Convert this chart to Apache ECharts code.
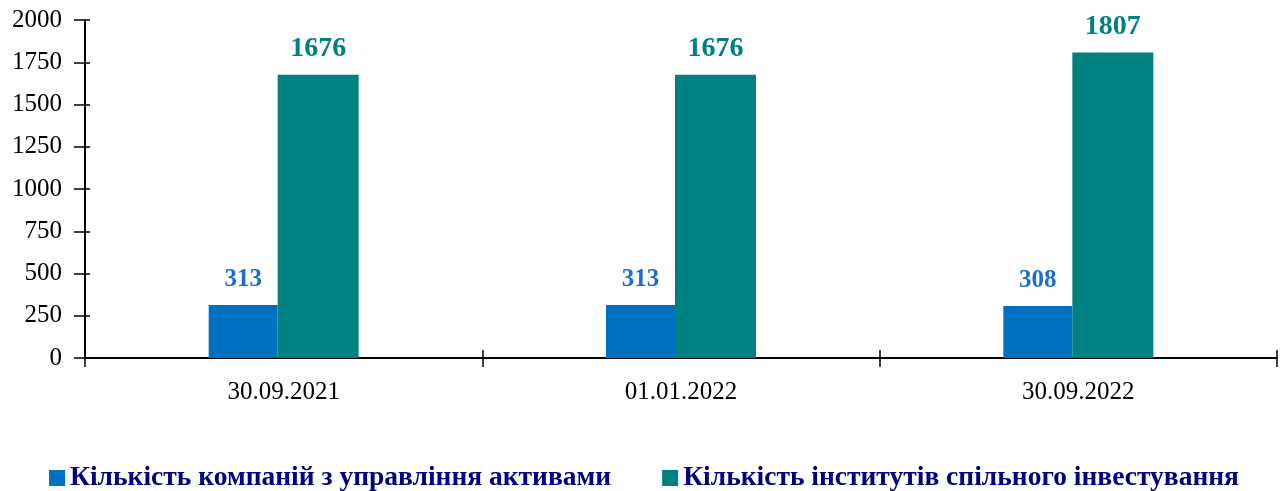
<!DOCTYPE html>
<html>
<head>
<meta charset="utf-8">
<script src="https://cdn.jsdelivr.net/npm/echarts@6/dist/echarts.min.js"></script>
<style>
    html, body { margin: 0; padding: 0; background: #fff; }
    #main { width: 1288px; height: 491px; }
</style>
</head>
<body>
<div id="main"></div>
<script>
// дані
var categories = ['30.09.2021', '01.01.2022', '30.09.2022']
var amcValues = [313, 313, 308]
var ciiValues = [1676, 1676, 1807]
var seriesNames = ['Кількість компаній з управління активами', 'Кількість інститутів спільного інвестування']

var font = '"Liberation Serif", "Times New Roman", serif'
var blue = '#0070C0'
var teal = '#008080'

var chart = echarts.init(document.querySelector('#main'))

var yBase = {
    type: 'value',
    min: 0,
    max: 2000,
    interval: 250,
    splitLine: { show: false },
}

var xBase = {
    type: 'category',
    data: categories,
    boundaryGap: true,
}

chart.setOption({
    animation: false,
    textStyle: { fontFamily: font },
    grid: { left: 85, right: 11, top: 20, bottom: 133 },
    legend: {
        top: 459,
        left: 'center',
        itemWidth: 16,
        itemHeight: 16,
        itemGap: 51,
        icon: 'rect',
        textStyle: { fontFamily: font, fontSize: 27.5, fontWeight: 'bold', color: '#000080' },
        data: seriesNames,
    },
    xAxis: [
        Object.assign({}, xBase, {
            axisLine: { lineStyle: { color: '#000', width: 2 } },
            axisTick: { show: true, length: 9, lineStyle: { color: '#000', width: 1.5 } },
            axisLabel: { margin: 22, fontSize: 25, color: '#000', fontFamily: font },
        }),
        Object.assign({}, xBase, {
            position: 'bottom',
            axisLine: { show: false },
            axisTick: { show: true, inside: true, length: 8, lineStyle: { color: '#000', width: 1.5 } },
            axisLabel: { show: false },
        }),
    ],
    yAxis: [
        Object.assign({}, yBase, {
            axisLine: { show: true, lineStyle: { color: '#000', width: 2 } },
            axisTick: { show: true, length: 11, lineStyle: { color: '#000', width: 1.5 } },
            axisLabel: {
                margin: 23,
                fontSize: 25,
                color: '#000',
                fontFamily: font,
                formatter: (v) => String(v),
            },
        }),
        Object.assign({}, yBase, {
            position: 'left',
            axisLine: { show: false },
            axisTick: { show: true, inside: true, length: 5, lineStyle: { color: '#000', width: 1.5 } },
            axisLabel: { show: false },
        }),
    ],
    series: [
        {
            name: seriesNames[0],
            type: 'bar',
            data: amcValues,
            barWidth: 69,
            barGap: '0%',
            itemStyle: { color: blue },
            label: {
                show: true,
                position: 'top',
                distance: 13,
                fontFamily: font,
                fontSize: 25,
                fontWeight: 'bold',
                color: '#1A6FCC',
            },
        },
        {
            name: seriesNames[1],
            type: 'bar',
            data: ciiValues,
            barWidth: 81,
            barGap: '0%',
            itemStyle: { color: teal },
            label: {
                show: true,
                position: 'top',
                distance: 12,
                fontFamily: font,
                fontSize: 28,
                fontWeight: 'bold',
                color: teal,
            },
        },
    ],
})
</script>
</body>
</html>
